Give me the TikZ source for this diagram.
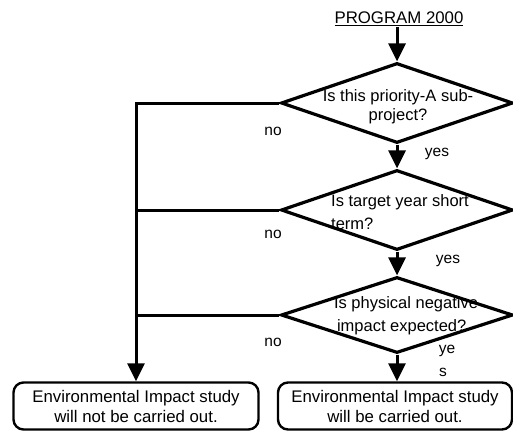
\documentclass[tikz,border=0pt]{standalone}
\usepackage{fontspec}
\setmainfont{Liberation Sans}
\usetikzlibrary{shapes.geometric,arrows.meta}
\begin{document}
\begin{tikzpicture}[x=1pt,y=-1pt,
  dec/.style={diamond, draw, line width=3.2pt, minimum width=232pt, minimum height=#1, inner sep=0pt},
  qtext/.style={font=\fontsize{16.5}{19}\selectfont, align=center, inner sep=0pt},
  qtextl/.style={font=\fontsize{16.5}{23}\selectfont, align=left, inner sep=0pt},
  endbox/.style={draw, line width=2.4pt, rounded corners=10pt, minimum width=#1, minimum height=47pt, inner sep=0pt, align=center, font=\fontsize{16.8}{20}\selectfont},
  lbl/.style={font=\fontsize{15.5}{15}\selectfont, inner sep=0pt},
  conn/.style={line width=3pt},
  arr/.style={line width=3pt, -{Triangle[width=17pt,length=18pt]}}]
\useasboundingbox (0,0) rectangle (513,431);
\node[font=\fontsize{16.8}{18}\selectfont, inner sep=1pt] (t) at (399,19) {\underline{PROGRAM 2000}};
\node[dec=80pt] (d1) at (397,103) {};
\node[qtext] (q1) at (398,107) {Is this priority-A sub-\\project?};
\node[dec=80pt] (d2) at (397,210) {};
\node[qtextl] (q2) at (400,212) {Is target year short\\term?};
\node[dec=76pt] (d3) at (397,315) {};
\node[qtextl] (q3) at (406,316) {Is physical negative\\\hspace*{3pt}impact expected?};
\node[endbox=245pt] (lb) at (136,406) {Environmental Impact study\\will not be carried out.};
\node[endbox=234pt] (rb) at (395,406) {Environmental Impact study\\will be carried out.};
\draw[arr] (t.south -| d1.north) -- (d1.north);
\draw[arr] (d1.south) -- (d2.north);
\draw[arr] (d2.south) -- (d3.north);
\draw[arr] (d3.south) -- (d3.south |- rb.north);
\draw[arr] (d1.west) -| (lb.north);
\draw[conn] (d2.west) -- (d2.west -| lb.north);
\draw[conn] (d3.west) -- (d3.west -| lb.north);
\node[lbl] (n1) at (273,131) {no};
\node[lbl] (n2) at (273,234) {no};
\node[lbl] (n3) at (273,342) {no};
\node[lbl] (y1) at (437,154) {yes};
\node[lbl] (y2) at (448,261) {yes};
\node[lbl] (y3) at (447,351) {ye};
\node[lbl] (y4) at (443,372) {s};
\end{tikzpicture}
\end{document}
